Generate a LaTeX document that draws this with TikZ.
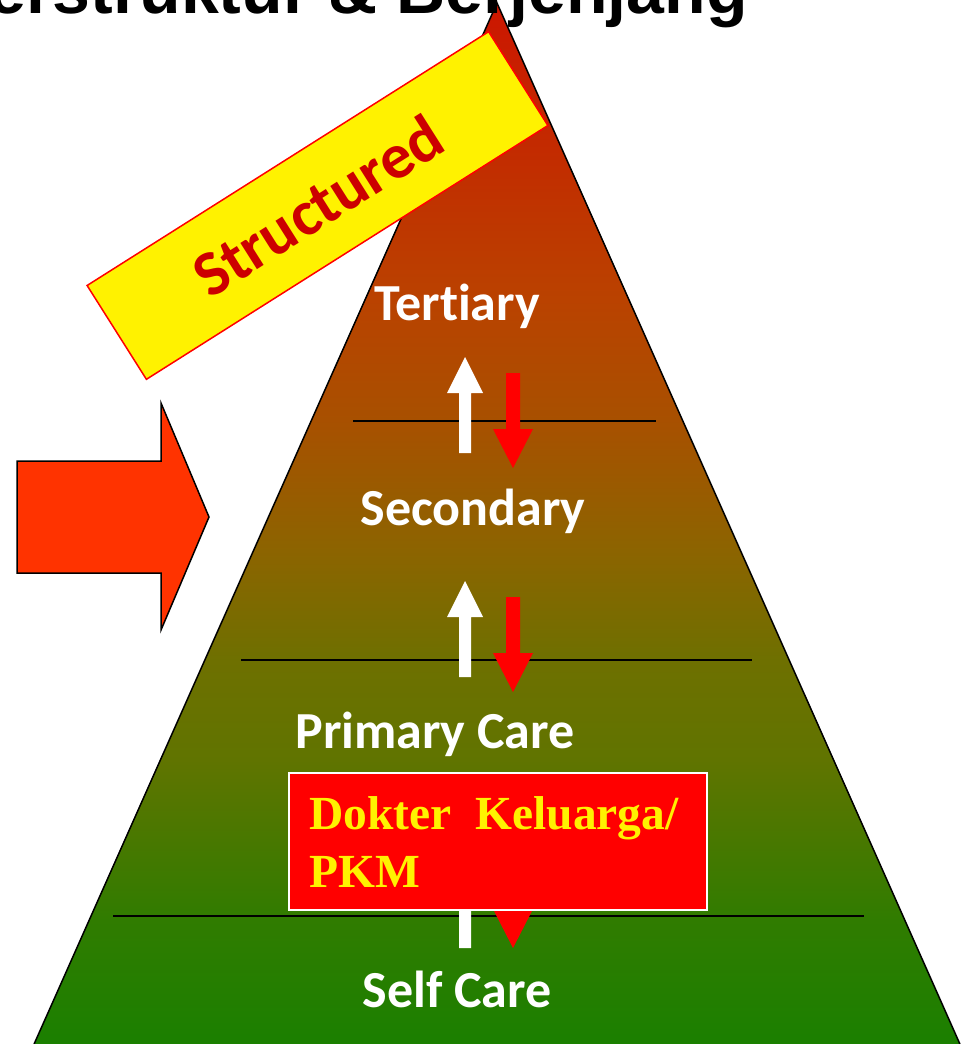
\documentclass[tikz,border=0pt]{standalone}
\usepackage{fontspec}
\newfontfamily\calibri[Ligatures=NoCommon]{Carlito}
\newfontfamily\timesfont{Liberation Serif}
\newfontfamily\arialfont{Liberation Sans}
\definecolor{pyrA}{RGB}{204,22,0}
\definecolor{pyrB}{RGB}{196,40,0}
\definecolor{pyrC}{RGB}{186,66,0}
\definecolor{pyrD}{RGB}{168,80,0}
\definecolor{pyrE}{RGB}{140,100,0}
\definecolor{pyrF}{RGB}{110,112,0}
\definecolor{pyrG}{RGB}{96,116,0}
\definecolor{pyrH}{RGB}{48,124,0}
\definecolor{pyrI}{RGB}{24,128,0}
\definecolor{bigarrow}{RGB}{255,51,0}
\definecolor{bannertext}{RGB}{204,0,0}
\pgfdeclareverticalshading{pyramid}{100bp}{color(0bp)=(pyrI); color(25bp)=(pyrI);
  color(31.6bp)=(pyrH); color(39.2bp)=(pyrG); color(43.9bp)=(pyrF); color(49.1bp)=(pyrE);
  color(55.3bp)=(pyrD); color(61bp)=(pyrC); color(69bp)=(pyrB); color(75bp)=(pyrA); color(100bp)=(pyrA)}
\begin{document}
\begin{tikzpicture}[x=1pt,y=-1pt,
  level/.style={text=white,inner sep=0pt,anchor=base,font=\calibri\bfseries\fontsize{52}{62}\selectfont},
  dokterline/.style={text=yellow,inner sep=0pt,anchor=base west,font=\timesfont\bfseries\fontsize{47.5}{58}\selectfont},
  uparrow/.style={fill=white},
  downarrow/.style={fill=red}]
\useasboundingbox (0,0) rectangle (965,1044);
\clip (0,0) rectangle (965,1044);
\coordinate (apex) at (497,3);
\coordinate (baseL) at (27,1060);
\coordinate (baseR) at (967,1060);
\shade[shading=pyramid] (apex) -- (baseR) -- (baseL) -- cycle;
\draw[line width=1.5] (baseL) -- (apex) -- (baseR);
\draw[line width=1.5] (353,421) -- (656,421);
\draw[line width=1.5] (241,660) -- (752,660);
\draw[line width=1.5] (113,916) -- (864,916);
\foreach \up/\down in {0/0,224/224,495/480}{
  \fill[uparrow] (459,{453+\up}) -- (459,{393+\up}) -- (447,{393+\up}) -- (465,{357+\up})
    -- (483,{393+\up}) -- (471,{393+\up}) -- (471,{453+\up}) -- cycle;
  \fill[downarrow] (506,{373+\down}) -- (520,{373+\down}) -- (520,{429+\down}) -- (533,{429+\down})
    -- (513,{468+\down}) -- (493,{429+\down}) -- (506,{429+\down}) -- cycle;
}
\draw[line width=1.5,fill=bigarrow] (17,461) -- (161,461) -- (161,403) -- (209,517)
  -- (161,630) -- (161,573) -- (17,573) -- cycle;
\node[draw=white,line width=1.5,fill=red,minimum width=418,minimum height=137,anchor=north west] (dokter) at (288,772) {};
\node[dokterline] (dokter1) at (309,829) {Dokter~~Keluarga/};
\node[dokterline] (dokter2) at (309,887) {PKM};
\node[level] (tertiary) at (457,320) {Tertiary};
\node[level] (secondary) at (473,525) {Secondary};
\node[level] (primary) at (435,748) {Primary Care};
\node[level] (selfcare) at (457,1007) {Self Care};
\node[draw=red,line width=1.5,fill=yellow,rotate=32.3,minimum width=475,minimum height=111,inner sep=0pt,
  text=bannertext,font=\calibri\bfseries\fontsize{64}{76}\selectfont] (structured) at (317.5,205.5) {Structured};
\node[anchor=base east,inner sep=0pt,font=\arialfont\bfseries\fontsize{68}{80}\selectfont] (title) at (748,13) {Terstruktur \& Berjenjang};
\end{tikzpicture}
\end{document}
